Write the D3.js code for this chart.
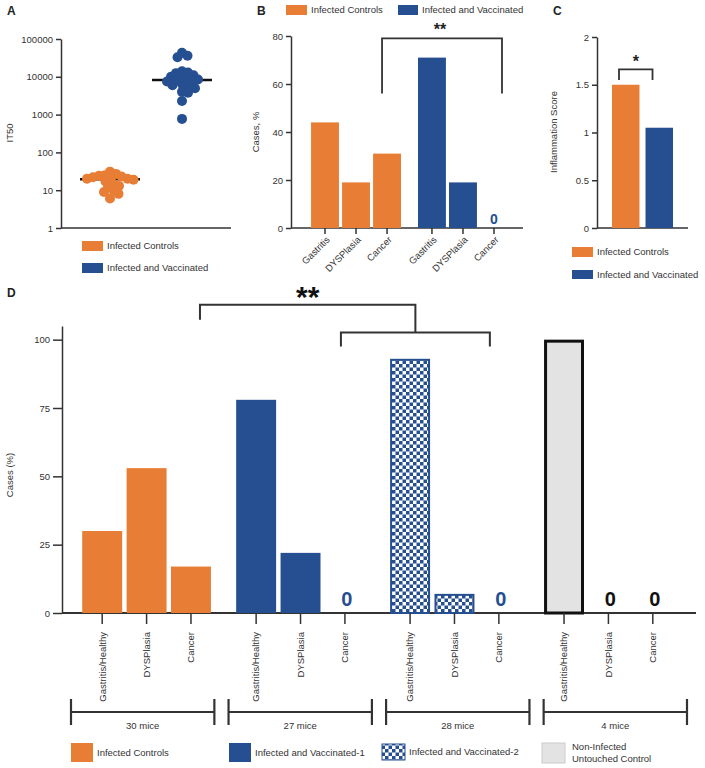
<!DOCTYPE html>
<html><head><meta charset="utf-8">
<script src="https://cdn.jsdelivr.net/npm/d3@7"></script>
<style>
body{margin:0;background:#fff}
text{font-family:"Liberation Sans",Arial,Helvetica,sans-serif;fill:#333}
.axis path,.axis line{stroke:#333;stroke-width:1.5}
.axis text{font-size:9.5px;fill:#333}
</style>
</head><body>
<svg id="chart" width="705" height="768"></svg>
<script>
// ---------------- DATA ----------------
const groupsA = ["Infected Controls", "Infected and Vaccinated"];
const it50Controls = [31, 27, 25, 24, 23, 22, 21, 20, 20, 19, 17, 15, 13, 12, 10, 9, 8, 6];
const it50Vaccinated = [43000, 36000, 33000, 14000, 13000, 12500, 11000, 10000, 9500, 9000, 8500,
                        8000, 7500, 7000, 6500, 6000, 5500, 5000, 4000, 3800, 2300, 770];
const ticksA = [1, 10, 100, 1000, 10000, 100000];

const categoriesB = ["Gastritis", "DYSPlasia", "Cancer"];
const casesControlsB = [44, 19, 31];
const casesVaccinatedB = [71, 19, 0];
const ticksB = [0, 20, 40, 60, 80];

const groupsC = ["Infected Controls", "Infected and Vaccinated"];
const inflammationScore = [1.5, 1.05];
const ticksC = [0, 0.5, 1, 1.5, 2];

const categoriesD = ["Gastritis/Healthy", "DYSPlasia", "Cancer"];
const groupsD = ["Infected Controls", "Infected and Vaccinated-1", "Infected and Vaccinated-2", "Non-Infected Untouched Control"];
const casesControlsD = [30, 53, 17];
const casesVaccinated1D = [78, 22, 0];
const casesVaccinated2D = [93, 7, 0];
const casesNonInfectedD = [100, 0, 0];
const miceLabels = ["30 mice", "27 mice", "28 mice", "4 mice"];
const ticksD = [0, 25, 50, 75, 100];

// ---------------- STYLE ----------------
const ORANGE = "#E87E35", BLUE = "#264F91", GRAY = "#E3E3E3", INK = "#333";
const svg = d3.select("#chart");

const defs = svg.append("defs");
const pat = defs.append("pattern").attr("id", "checker").attr("patternUnits", "userSpaceOnUse")
  .attr("width", 7).attr("height", 7);
pat.append("rect").attr("width", 7).attr("height", 7).attr("fill", "#fff");
pat.append("rect").attr("width", 3.5).attr("height", 3.5).attr("fill", BLUE);
pat.append("rect").attr("x", 3.5).attr("y", 3.5).attr("width", 3.5).attr("height", 3.5).attr("fill", BLUE);

function panelLabel(t, x, y) {
  svg.append("text").attr("x", x).attr("y", y).text(t)
    .style("font-size", "12px").style("font-weight", "bold").style("fill", "#222");
}
function yTitle(t, x, y) {
  svg.append("text").attr("transform", `translate(${x},${y}) rotate(-90)`)
    .attr("text-anchor", "middle").text(t).style("font-size", "9.5px");
}
function legendItem(x, y, w, h, fill, label, stroke) {
  svg.append("rect").attr("x", x).attr("y", y).attr("width", w).attr("height", h)
    .attr("fill", fill).attr("stroke", stroke || "none");
  if (label) svg.append("text").attr("x", x + w + 4).attr("y", y + h / 2).attr("dy", "0.35em")
    .text(label).style("font-size", "9.5px");
}
function hline(x1, x2, y, w) {
  svg.append("line").attr("x1", x1).attr("x2", x2).attr("y1", y).attr("y2", y)
    .attr("stroke", INK).attr("stroke-width", w || 1.5);
}

// ---------------- PANEL A ----------------
panelLabel("A", 7, 15);
const yA = d3.scaleLog().domain([1, 100000]).range([228, 39]);
const xA = d3.scalePoint().domain(groupsA).range([110, 182]);
svg.append("g").attr("class", "axis").attr("transform", "translate(61,0)")
  .call(d3.axisLeft(yA).tickValues(ticksA).tickFormat(d3.format("d")).tickSize(5).tickPadding(3).tickSizeOuter(0));
hline(61, 231, 228);
yTitle("IT50", 13, 133);

function swarm(values, cx, r) {
  const placed = [];
  values.forEach(v => {
    const y = yA(v);
    for (let k = 0; k < 400; k++) {
      const off = (k % 2 ? 1 : -1) * Math.ceil(k / 2) * 0.5;
      const x = cx + off;
      if (placed.every(p => Math.hypot(p.x - x, p.y - y) >= r * 1.2)) { placed.push({x, y, v}); break; }
    }
  });
  return placed;
}
[[it50Controls, ORANGE], [it50Vaccinated, BLUE]].forEach(([vals, col], i) => {
  const cx = xA(groupsA[i]);
  const med = d3.median(vals);
  svg.append("line").attr("x1", cx - 30).attr("x2", cx + 30).attr("y1", yA(med)).attr("y2", yA(med))
    .attr("stroke", "#111").attr("stroke-width", 2.5);
  svg.append("g").selectAll("circle").data(swarm(vals, cx, 5)).join("circle")
    .attr("cx", d => d.x).attr("cy", d => d.y).attr("r", 5).attr("fill", col);
});
legendItem(82, 241, 21, 10, ORANGE, groupsA[0]);
legendItem(82, 263, 21, 10, BLUE, groupsA[1]);

// ---------------- PANEL B ----------------
panelLabel("B", 257, 15);
const yB = d3.scaleLinear().domain([0, 80]).range([228, 36]);
const xB0 = d3.scaleBand().domain(["ctrl", "vacc"]).range([309.5, 509.5]).paddingInner(0.13);
const xB1 = d3.scaleBand().domain(categoriesB).range([0, xB0.bandwidth()]).paddingInner(0.1).paddingOuter(0.05);
svg.append("g").attr("class", "axis").attr("transform", "translate(291,0)")
  .call(d3.axisLeft(yB).tickValues(ticksB).tickSize(5).tickPadding(3).tickSizeOuter(0));
hline(291, 523, 228);
yTitle("Cases, %", 259, 132);
const seriesB = [{key: "ctrl", vals: casesControlsB, col: ORANGE}, {key: "vacc", vals: casesVaccinatedB, col: BLUE}];
seriesB.forEach(s => {
  const g = svg.append("g");
  const rows = categoriesB.map((c, i) => ({c, v: s.vals[i], x: xB0(s.key) + xB1(c)}));
  g.selectAll("rect").data(rows.filter(d => d.v > 0)).join("rect")
    .attr("x", d => d.x).attr("width", xB1.bandwidth())
    .attr("y", d => yB(d.v)).attr("height", d => yB(0) - yB(d.v)).attr("fill", s.col);
  g.selectAll("line").data(rows).join("line")
    .attr("x1", d => d.x + xB1.bandwidth() / 2).attr("x2", d => d.x + xB1.bandwidth() / 2)
    .attr("y1", 228).attr("y2", 234).attr("stroke", INK).attr("stroke-width", 1.5);
  g.selectAll("text.lab").data(rows).join("text").attr("class", "lab")
    .attr("transform", d => `translate(${d.x + xB1.bandwidth() / 2 + 3},${238}) rotate(-45)`)
    .attr("text-anchor", "end").attr("dy", "0.35em").text(d => d.c).style("font-size", "9.5px");
  g.selectAll("text.zero").data(rows.filter(d => d.v === 0)).join("text").attr("class", "zero")
    .attr("x", d => d.x + xB1.bandwidth() / 2).attr("y", 224).attr("text-anchor", "middle")
    .text("0").style("font-size", "14px").style("font-weight", "bold").style("fill", s.col);
});
{
  const xl = xB0("ctrl") + xB1("Cancer") + xB1.bandwidth() / 2 - 5;
  const xr = xB0("vacc") + xB1("Cancer") + xB1.bandwidth() / 2 + 8;
  svg.append("path").attr("d", `M${xl},${yB(56)}V${yB(79)}H${xr}V${yB(56)}`)
    .attr("fill", "none").attr("stroke", INK).attr("stroke-width", 1.8);
  svg.append("text").attr("x", (xl + xr) / 2 - 2).attr("y", 35).attr("text-anchor", "middle").text("**")
    .style("font-size", "16px").style("font-weight", "bold").style("fill", "#222");
}
legendItem(286, 5, 21, 10, ORANGE, "Infected Controls");
legendItem(398, 5, 20, 10, BLUE, "Infected and Vaccinated");

// ---------------- PANEL C ----------------
panelLabel("C", 553, 15);
const yC = d3.scaleLinear().domain([0, 2]).range([228, 37]);
const xC = d3.scaleBand().domain(groupsC).range([612, 673]).paddingInner(0.18);
svg.append("g").attr("class", "axis").attr("transform", "translate(597,0)")
  .call(d3.axisLeft(yC).tickValues(ticksC).tickFormat(d => d3.format("")(d)).tickSize(5).tickPadding(3).tickSizeOuter(0));
hline(597, 688, 228);
yTitle("Inflammation Score", 557, 132);
svg.append("g").selectAll("rect").data(groupsC).join("rect")
  .attr("x", d => xC(d)).attr("width", xC.bandwidth())
  .attr("y", (d, i) => yC(inflammationScore[i])).attr("height", (d, i) => yC(0) - yC(inflammationScore[i]))
  .attr("fill", (d, i) => i ? BLUE : ORANGE);
{
  const xl = xC(groupsC[0]) + 7, xr = xC(groupsC[1]) + 7;
  svg.append("path").attr("d", `M${xl},${yC(1.55)}V${yC(1.66)}H${xr}V${yC(1.55)}`)
    .attr("fill", "none").attr("stroke", INK).attr("stroke-width", 1.8);
  svg.append("text").attr("x", (xl + xr) / 2).attr("y", 67).attr("text-anchor", "middle").text("*")
    .style("font-size", "16px").style("font-weight", "bold").style("fill", "#222");
}
legendItem(572, 247, 21, 10, ORANGE, groupsC[0]);
legendItem(572, 270, 21, 9, BLUE, groupsC[1]);

// ---------------- PANEL D ----------------
panelLabel("D", 7, 297);
const yD = d3.scaleLinear().domain([0, 105]).range([613, 326]);
const xD0 = d3.scaleBand().domain(groupsD).range([80, 675]).paddingInner(0.135);
const xD1 = d3.scaleBand().domain(categoriesD).range([0, xD0.bandwidth()]).paddingInner(0.1).paddingOuter(0.05);
svg.append("g").attr("class", "axis").attr("transform", "translate(62,0)")
  .call(d3.axisLeft(yD).tickValues(ticksD).tickSize(9).tickPadding(3).tickSizeOuter(0))
  .call(g => g.selectAll("path,line").attr("stroke-width", 2));
hline(62, 696, 613, 2);
yTitle("Cases (%)", 13, 475);

const seriesD = [
  {g: groupsD[0], vals: casesControlsD, fill: ORANGE, stroke: "none", sw: 0, zero: ORANGE},
  {g: groupsD[1], vals: casesVaccinated1D, fill: BLUE, stroke: "none", sw: 0, zero: BLUE},
  {g: groupsD[2], vals: casesVaccinated2D, fill: "url(#checker)", stroke: BLUE, sw: 2, zero: BLUE},
  {g: groupsD[3], vals: casesNonInfectedD, fill: GRAY, stroke: "#111", sw: 3, zero: "#111"}
];
seriesD.forEach(s => {
  const g = svg.append("g");
  const rows = categoriesD.map((c, i) => ({c, v: s.vals[i], x: xD0(s.g) + xD1(c)}));
  const bw = xD1.bandwidth();
  g.selectAll("rect").data(rows.filter(d => d.v > 0)).join("rect")
    .attr("x", d => d.x + s.sw / 2).attr("width", bw - s.sw)
    .attr("y", d => yD(d.v) + s.sw / 2).attr("height", d => yD(0) - yD(d.v) - s.sw / 2)
    .attr("fill", s.fill).attr("stroke", s.stroke).attr("stroke-width", s.sw);
  g.selectAll("line").data(rows).join("line")
    .attr("x1", d => d.x + bw / 2).attr("x2", d => d.x + bw / 2)
    .attr("y1", 613).attr("y2", 624).attr("stroke", INK).attr("stroke-width", 1.5);
  g.selectAll("text.lab").data(rows).join("text").attr("class", "lab")
    .attr("transform", d => `translate(${d.x + bw / 2},632) rotate(-90)`)
    .attr("text-anchor", "end").attr("dy", "0.35em").text(d => d.c).style("font-size", "9.5px");
  g.selectAll("text.zero").data(rows.filter(d => d.v === 0)).join("text").attr("class", "zero")
    .attr("x", d => d.x + bw / 2 + 2).attr("y", 606).attr("text-anchor", "middle")
    .text("0").style("font-size", "20px").style("font-weight", "bold").style("fill", s.zero);
});
// significance brackets
{
  const c = xD1("Cancer") + xD1.bandwidth() / 2;
  const a = xD0(groupsD[0]) + c + 9;
  const l1 = xD0(groupsD[1]) + c - 4, l2 = xD0(groupsD[2]) + c - 9;
  const lm = (l1 + l2) / 2;
  svg.append("path").attr("d", `M${l1},${yD(97.5)}V${yD(102.6)}H${l2}V${yD(97.5)}`)
    .attr("fill", "none").attr("stroke", INK).attr("stroke-width", 2);
  svg.append("path").attr("d", `M${a},${yD(107.3)}V${yD(112.8)}H${lm}V${yD(102.6)}`)
    .attr("fill", "none").attr("stroke", INK).attr("stroke-width", 2);
  svg.append("text").attr("x", (a + lm) / 2).attr("y", 307).attr("text-anchor", "middle").text("**")
    .style("font-size", "30px").style("font-weight", "bold").style("fill", "#111");
}
// mice brackets
const xM = d3.scaleBand().domain(miceLabels).range([71, 687]).paddingInner(0.09);
const mg = svg.append("g").selectAll("g").data(miceLabels).join("g");
mg.append("line").attr("x1", d => xM(d)).attr("x2", d => xM(d) + xM.bandwidth())
  .attr("y1", 712).attr("y2", 712).attr("stroke", INK).attr("stroke-width", 2);
mg.append("line").attr("x1", d => xM(d)).attr("x2", d => xM(d)).attr("y1", 699).attr("y2", 725)
  .attr("stroke", INK).attr("stroke-width", 2.2);
mg.append("line").attr("x1", d => xM(d) + xM.bandwidth()).attr("x2", d => xM(d) + xM.bandwidth())
  .attr("y1", 699).attr("y2", 725).attr("stroke", INK).attr("stroke-width", 2.2);
mg.append("text").attr("x", d => xM(d) + xM.bandwidth() / 2).attr("y", 729).attr("text-anchor", "middle")
  .text(d => d).style("font-size", "9.5px");

// legend D
legendItem(71, 743, 22, 19, ORANGE, groupsD[0]);
legendItem(229, 743, 22, 19, BLUE, groupsD[1]);
legendItem(382, 744, 23, 16, "url(#checker)", groupsD[2], BLUE);
legendItem(542, 743, 23, 20, GRAY, null, "#ccc");
svg.append("text").attr("x", 572).attr("y", 750).text("Non-Infected").style("font-size", "9.5px");
svg.append("text").attr("x", 572).attr("y", 762).text("Untouched Control").style("font-size", "9.5px");
</script>
</body></html>
